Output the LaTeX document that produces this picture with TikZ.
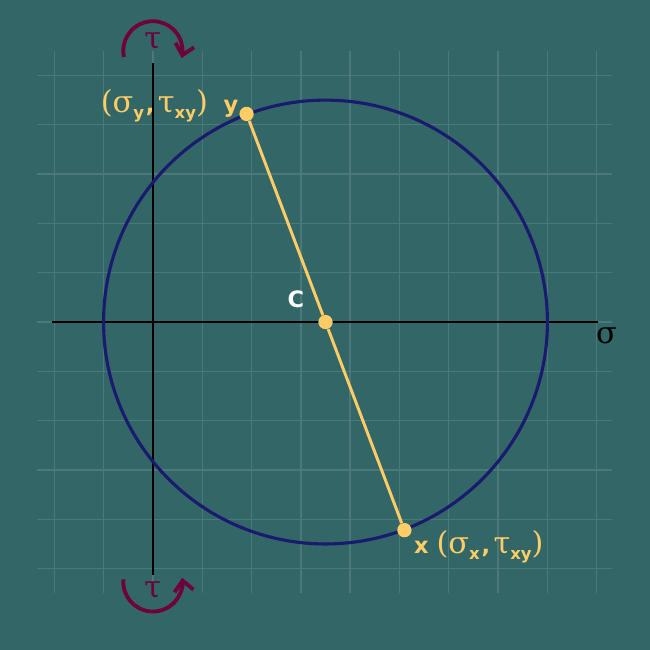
\documentclass[tikz,border=0pt]{standalone}
\usepackage{fontspec}
\setmainfont{DejaVu Sans}
\newfontfamily\greekfont{DejaVu Serif}
\usetikzlibrary{arrows.meta,positioning,calc}

\definecolor{bgteal}{RGB}{51,102,102}
\definecolor{circblue}{RGB}{26,26,110}
\definecolor{diamyellow}{RGB}{255,204,102}
\definecolor{shearred}{RGB}{110,0,60}

\newcommand{\gr}[1]{{\greekfont\mdseries\fontsize{17.5}{20}\selectfont #1}}
\newcommand{\smallsub}[1]{\raisebox{-0.5ex}{\fontsize{9.5}{11}\selectfont\bfseries #1}}

\tikzset{
  gridline/.style={white, opacity=0.12, line width=0.8pt},
  axis/.style={black, line width=1.1pt},
  mohr/.style={circblue, line width=1.8pt},
  diam/.style={diamyellow, line width=1.7pt},
  dot/.style={circle, fill=diamyellow, inner sep=0pt, minimum size=0.29cm},
  lbl/.style={diamyellow, font=\fontsize{13}{15}\selectfont\bfseries, inner sep=1pt},
  shear/.style={shearred, line width=2.2pt, -{Straight Barb[length=6pt,width=11pt]}},
}

\begin{document}
\begin{tikzpicture}
  % background and grid
  \fill[bgteal] (-3.10,-6.65) rectangle (10.08,6.53);
  \draw[gridline] (-2.35,-5.5) grid (9.3,5.5);

  % axes
  \coordinate (xl) at (-2.05,0);
  \coordinate (xr) at (9.03,0);
  \coordinate (yt) at (0,5.25);
  \coordinate (yb) at (0,-5.13);
  \draw[axis] (xl) -- (xr);
  \draw[axis] (yb) -- (yt);
  \node[below right=0.1cm and -0.05cm of xr, inner sep=0pt] (sig) {\gr{σ}};

  % Mohr circle
  \node[dot] (c) at (3.5,0) {};
  \draw[mohr] (c) circle (4.5);

  \node[dot] (py) at (1.9,4.22) {};
  \node[dot] (px) at (5.1,-4.22) {};
  \draw[diam] (py) -- (c) -- (px);

  \node[white, font=\fontsize{13}{15}\selectfont\bfseries, above left=0.05cm and 0.2cm of c] (clbl) {C};
  \node[lbl, above left=-0.32cm and 0.02cm of py] (ylbl)
    {\gr{(σ}\smallsub{y}\kern1pt,\kern2pt\gr{τ}\smallsub{xy}\gr{)}\ \ y};
  \node[lbl, below right=-0.15cm and 0.05cm of px] (xlbl)
    {x\ \gr{(σ}\smallsub{x}\kern1pt,\kern2pt\gr{τ}\smallsub{xy}\gr{)}};

  % shear arrows
  \node[shearred] (ttop) at (0,5.7) {\gr{τ}};
  \draw[shear] ($(0,5.5)+(192:0.6)$) arc (192:-14:0.6);
  \node[shearred] (tbot) at (0,-5.44) {\gr{τ}};
  \draw[shear] ($(0,-5.27)+(175:0.6)$) arc (175:368:0.6);
\end{tikzpicture}
\end{document}
